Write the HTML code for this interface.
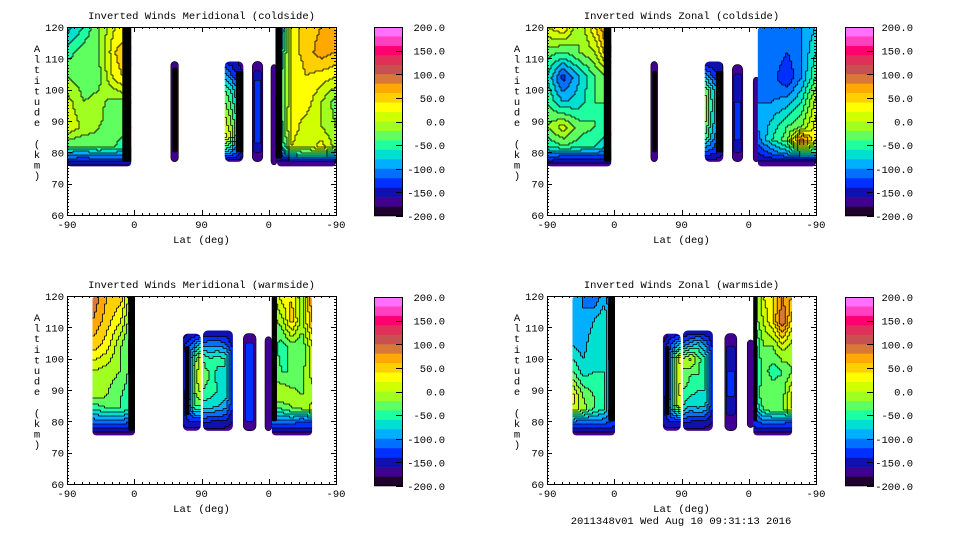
<!DOCTYPE html>
<html><head><meta charset="utf-8">
<style>
html,body{margin:0;padding:0;background:#fff;}
svg{display:block;}
text{font-family:"Liberation Mono",monospace;font-size:10.5px;fill:#000;}
</style></head>
<body>
<svg id="chart" width="960" height="540" viewBox="0 0 960 540" xmlns="http://www.w3.org/2000/svg">
<text x="681" y="524" text-anchor="middle">2011348v01 Wed Aug 10 09:31:13 2016</text>
</svg>
<script>
const bandColors=['#ff70ff','#ff40c0','#ff0070','#e0305a','#c85050','#d87838','#ffa800','#ffd000','#ffff00','#d0ff00','#a0ff20','#60ff60','#20ffa0','#00e0d0','#00b0ff','#0070ff','#0030ff','#1010b0','#400090','#200030'];
const cbLabels=['200.0','150.0','100.0','50.0','0.0','-50.0','-100.0','-150.0','-200.0'];
const xTickVals=[0,90,180,270,360];
const xTickLabels=['-90','0','90','0','-90'];
const yTickVals=[60,70,80,90,100,110,120];
const A9=[120,112,104,96,88,82,79,77,75.5];
const A9b=[120,112,104,96,88,84,80,77,75.5];
const A8=[109,105,100,95,90,85,80,77];
const A7=[108,104,100,95,90,85,80,77];

const tlBlocks=[
 {u:[0,86],a:[75.5,120],r:4,alts:A9,vals:[[-90,-60,-20,20,20],[-50,-30,-20,40,70],[-20,-30,-25,30,50],[10,-20,-15,-30,-20],[20,-5,-20,-25,-40],[-40,-40,-30,-40,-60],[-100,-110,-100,-100,-110],[-140,-140,-140,-140,-140],[-175,-175,-175,-175,-175]]},
 {u:[74,86],a:[77,120],r:2,fill:'#000'},
 {u:[139,149],a:[77,109],r:4,v:-165},
 {u:[141,148],a:[80,107],r:2,fill:'#000'},
 {u:[211,236],a:[77,109],r:5,alts:A8,vals:[[-150,-150,-160,-170],[-90,-120,-140,-160],[-40,-60,-100,-150],[-10,-40,-80,-150],[10,-20,-60,-150],[30,0,-80,-150],[-80,-100,-120,-160],[-170,-170,-170,-170]]},
 {u:[226,236],a:[80,106],r:2,fill:'#000'},
 {u:[248,262],a:[77,109],r:5,v:-165},
 {u:[250,260],a:[80,106],r:2,v:-150},
 {u:[251,259],a:[83,103],r:1,v:-125},
 {u:[273,281],a:[76,108],r:4,v:-165},
 {u:[281,360],a:[75.5,120],r:4,alts:A9,vals:[[-150,30,50,60,80],[-100,30,50,70,60],[-60,20,40,30,20],[-60,20,30,0,-30],[-80,30,10,0,-20],[-100,20,0,30,-10],[-140,-80,-60,-60,-90],[-160,-160,-160,-160,-160],[-175,-175,-175,-175,-175]]},
 {u:[279,288],a:[78,120],r:2,fill:'#000'}
];
const trBlocks=[
 {u:[0,86],a:[75.5,120],r:4,alts:A9,vals:[[20,40,-20,40,100],[-30,-40,-20,0,80],[-60,-130,-80,-40,-20],[-40,-80,-70,-40,-40],[-20,10,-30,-40,-50],[-60,-40,-50,-60,-80],[-110,-120,-120,-120,-120],[-150,-150,-150,-150,-150],[-175,-175,-175,-175,-175]]},
 {u:[76,86],a:[77,120],r:2,fill:'#000'},
 {u:[139,148],a:[77,109],r:4,v:-165},
 {u:[141,147],a:[80,106],r:2,fill:'#000'},
 {u:[211,236],a:[77,109],r:5,alts:A8,vals:[[-160,-160,-160,-160],[-90,-120,-140,-160],[-20,-60,-100,-150],[0,-50,-100,-150],[-10,-60,-100,-150],[-40,-80,-110,-150],[-120,-130,-140,-160],[-170,-170,-170,-170]]},
 {u:[226,236],a:[80,106],r:2,fill:'#000'},
 {u:[248,262],a:[77,108],r:5,v:-165},
 {u:[250,260],a:[80,105],r:2,v:-150},
 {u:[251,259],a:[84,96],r:1,v:-125},
 {u:[276,284],a:[77,104],r:4,v:-165},
 {u:[282,360],a:[75.5,120],r:4,alts:A9b,vals:[[-100,-100,-110,-100,-80],[-100,-100,-120,-100,-60],[-100,-110,-140,-100,-40],[-100,-100,-90,-60,10],[-100,-70,-40,-20,30],[-110,-60,-30,100,20],[-140,-110,-90,-60,-60],[-160,-160,-160,-160,-160],[-175,-175,-175,-175,-175]]}
];
const blBlocks=[
 {u:[34,91],a:[75.5,120],r:4,alts:A9b,vals:[[100,60,50,-40],[80,50,20,-60],[50,30,-20,-60],[0,-10,-20,-60],[-10,-20,-40,-60],[-60,-40,-40,-70],[-110,-110,-110,-120],[-150,-150,-150,-150],[-175,-175,-175,-175]]},
 {u:[82,91],a:[77,120],r:2,fill:'#000'},
 {u:[155,179],a:[77,108],r:5,alts:A7,vals:[[-170,-160,-150,-150],[-150,-120,-100,-60],[-160,-130,-30,10],[-160,-140,-10,20],[-160,-120,-20,10],[-150,-110,-40,-40],[-150,-140,-140,-140],[-170,-170,-170,-170]]},
 {u:[158,164],a:[82,104],r:2,fill:'#000'},
 {u:[182,222],a:[77,109],r:5,alts:A8,vals:[[-160,-160,-160,-160,-160],[-120,-110,-110,-120,-150],[-40,-60,-50,-60,-130],[-30,-40,-70,-60,-130],[-40,-50,-60,-60,-130],[-70,-70,-80,-90,-140],[-130,-140,-140,-140,-160],[-170,-170,-170,-170,-170]]},
 {u:[236,253],a:[77,108],r:5,v:-165},
 {u:[239,250],a:[80,105],r:2,v:-125},
 {u:[265,274],a:[77,107],r:4,v:-165},
 {u:[274,328],a:[75.5,120],r:4,alts:A9b,vals:[[-10,30,40,-20,80],[-30,-10,50,-10,60],[-30,-50,-30,-40,20],[-20,-40,-40,-30,10],[-10,0,-10,-20,-10],[-40,-40,-20,-20,10],[-110,-110,-110,-120,-120],[-150,-150,-150,-150,-150],[-175,-175,-175,-175,-175]]},
 {u:[274,281],a:[80,120],r:2,fill:'#000'}
];
const brBlocks=[
 {u:[34,91],a:[75.5,120],r:4,alts:A9b,vals:[[-80,-100,-120,-90,-150],[-80,-100,-80,-60,-150],[-80,-90,-60,-60,-150],[-40,-70,-60,-60,-140],[30,-20,-40,-60,-140],[20,-10,-40,-60,-140],[-100,-110,-110,-110,-130],[-150,-150,-150,-150,-150],[-175,-175,-175,-175,-175]]},
 {u:[82,91],a:[80,120],r:2,fill:'#000'},
 {u:[155,179],a:[77,108],r:5,alts:A7,vals:[[-170,-160,-150,-150],[-160,-130,-100,-60],[-160,-130,-20,30],[-160,-140,-20,20],[-160,-130,-10,30],[-150,-110,-20,20],[-150,-140,-140,-140],[-170,-170,-170,-170]]},
 {u:[158,164],a:[82,104],r:2,fill:'#000'},
 {u:[182,222],a:[77,109],r:5,alts:A8,vals:[[-160,-160,-160,-160,-160],[-120,-100,-80,-110,-150],[-20,10,-30,-60,-130],[-20,-40,-40,-60,-130],[-40,-50,-60,-60,-130],[-60,-80,-70,-80,-140],[-130,-140,-140,-140,-160],[-170,-170,-170,-170,-170]]},
 {u:[238,254],a:[77,108],r:5,v:-165},
 {u:[240,252],a:[82,104],r:2,v:-150},
 {u:[241,251],a:[88,96],r:1,v:-125},
 {u:[268,277],a:[78,106],r:4,v:-165},
 {u:[276,328],a:[75.5,120],r:4,alts:A9b,vals:[[-60,20,40,80,60],[-40,0,40,100,30],[-80,-20,-20,10,-10],[-80,-30,-50,-40,-20],[-80,-20,-20,-30,30],[-100,-40,-20,-20,20],[-130,-110,-110,-110,-120],[-150,-150,-150,-150,-150],[-175,-175,-175,-175,-175]]},
 {u:[276,281],a:[80,120],r:2,fill:'#000'}
];

const panels=[
 {name:'meridional-coldside',title:'Inverted Winds Meridional (coldside)',x0:67,y0:27,cbx:374,cby:27,lblx:445,blocks:tlBlocks},
 {name:'zonal-coldside',title:'Inverted Winds Zonal (coldside)',x0:547,y0:27,cbx:845,cby:27,lblx:913,blocks:trBlocks},
 {name:'meridional-warmside',title:'Inverted Winds Meridional (warmside)',x0:67,y0:296,cbx:374,cby:297,lblx:445,blocks:blBlocks},
 {name:'zonal-warmside',title:'Inverted Winds Zonal (warmside)',x0:547,y0:296,cbx:845,cby:297,lblx:913,blocks:brBlocks}
];
const PW=269,PH=188,NS='http://www.w3.org/2000/svg';
const svg=document.getElementById('chart');
let clipId=0;
function mk(tag,attrs,parent){const e=document.createElementNS(NS,tag);for(const k in attrs)e.setAttribute(k,attrs[k]);(parent||svg).appendChild(e);return e;}
function band(v){let i=Math.floor((200-v)/20);return Math.max(0,Math.min(19,i));}
function sample(b,u,a){
 const nc=b.vals[0].length;
 let c=(u-b.u[0])/(b.u[1]-b.u[0])*(nc-1);c=Math.max(0,Math.min(nc-1,c));
 const al=b.alts;let k=0;
 while(k<al.length-2&&a<al[k+1])k++;
 let t=(al[k]-a)/(al[k]-al[k+1]);t=Math.max(0,Math.min(1,t));
 const c0=Math.floor(c),c1=Math.min(nc-1,c0+1),f=c-c0;
 const r0=b.vals[k],r1=b.vals[k+1];
 const v0=r0[c0]*(1-f)+r0[c1]*f,v1=r1[c0]*(1-f)+r1[c1]*f;
 return v0*(1-t)+v1*t;
}
panels.forEach(p=>{
 const xs=u=>p.x0+u/360*PW, ys=a=>p.y0+(120-a)/60*PH;
 const g=mk('g',{});
 
 
 const t=mk('text',{x:p.x0+PW/2,y:p.y0-8,'text-anchor':'middle'},g);t.textContent=p.title;
 
 
 const plot=mk('g',{},g);
 
 
 p.blocks.forEach(b=>{
  const X0=xs(b.u[0]),X1=xs(b.u[1]),Y0=ys(b.a[1]),Y1=ys(b.a[0]);
  if(b.fill||b.v!==undefined){
   const r=mk('rect',{x:X0,y:Y0,width:X1-X0,height:Y1-Y0,rx:b.r,fill:b.fill||bandColors[band(b.v)],stroke:b.fill?'none':'#000','stroke-width':b.fill?0:0.6},plot);
   
   
   return;
  }
  const id='c'+(clipId++);
  const cp=mk('clipPath',{id:id},plot);
  mk('rect',{x:X0,y:Y0,width:X1-X0,height:Y1-Y0,rx:b.r},cp);
  const bg=mk('g',{'clip-path':'url(#'+id+')'},plot);
  
  
  const st=2,nx=Math.ceil((X1-X0)/st),ny=Math.ceil((Y1-Y0)/st);
  const grid=[];
  for(let j=0;j<ny;j++){const row=[];for(let i=0;i<nx;i++){
   const px=X0+(i+0.5)*st,py=Y0+(j+0.5)*st;
   const u=(px-p.x0)/PW*360,a=120-(py-p.y0)/PH*60;
   row.push(band(sample(b,u,a)));}grid.push(row);}
  for(let j=0;j<ny;j++){let i=0;while(i<nx){let k=i;while(k+1<nx&&grid[j][k+1]===grid[j][i])k++;
   const r=mk('rect',{x:X0+i*st,y:Y0+j*st,width:(k-i+1)*st+0.3,height:st+0.3,fill:bandColors[grid[j][i]]},bg);
   
   
   i=k+1;}}
  let d='';
  for(let j=0;j<ny;j++)for(let i=0;i<nx;i++){
   if(i+1<nx&&grid[j][i]!==grid[j][i+1])d+='M'+(X0+(i+1)*st)+' '+(Y0+j*st)+'v'+st;
   if(j+1<ny&&grid[j][i]!==grid[j+1][i])d+='M'+(X0+i*st)+' '+(Y0+(j+1)*st)+'h'+st;}
  const cl=mk('path',{d:d,stroke:'#000','stroke-width':0.8,fill:'none'},bg);
  
  
 });
 const ax=mk('rect',{x:p.x0+0.5,y:p.y0+0.5,width:PW,height:PH,fill:'none',stroke:'#000','stroke-width':1},g);
 
 
 let td='';
 for(let u=0;u<=360;u+=10){const x=Math.round(xs(u))+0.5,L=(u%90===0)?5:2;td+='M'+x+' '+(p.y0+PH)+'v-'+L+'M'+x+' '+p.y0+'v'+L;}
 for(let a=60;a<=120;a+=1){const y=Math.round(ys(a))+0.5,L=(a%10===0)?5:2;td+='M'+p.x0+' '+y+'h'+L+'M'+(p.x0+PW)+' '+y+'h-'+L;}
 const tk=mk('path',{d:td,stroke:'#000','stroke-width':1,fill:'none'},g);
 
 
 xTickVals.forEach((u,i)=>{const e=mk('text',{x:xs(u),y:p.y0+PH+13,'text-anchor':'middle'},g);e.textContent=xTickLabels[i];
  
  });
 yTickVals.forEach(a=>{const e=mk('text',{x:p.x0-3,y:ys(a)+4,'text-anchor':'end'},g);e.textContent=String(a);
  
  });
 const xt=mk('text',{x:p.x0+PW/2,y:p.y0+PH+28,'text-anchor':'middle'},g);xt.textContent='Lat (deg)';
 
 
 const yt=mk('text',{x:p.x0-30,y:p.y0+17,style:'writing-mode:vertical-lr;text-orientation:upright;letter-spacing:-1.4px'},g);yt.textContent='Altitude (km)';
 
 
 const cb=mk('g',{},g);
 
 
 const CH=189,bh=CH/20;
 bandColors.forEach((c,i)=>{const r=mk('rect',{x:p.cbx,y:p.cby+i*bh,width:29,height:bh+0.3,fill:c},cb);
  
  });
 mk('rect',{x:p.cbx+0.5,y:p.cby+0.5,width:28,height:CH-1,fill:'none',stroke:'#000'},cb);
 cbLabels.forEach((l,i)=>{const y=p.cby+i*CH/8;
  mk('path',{d:'M'+(p.cbx+22)+' '+(Math.round(y)+0.5)+'h7',stroke:'#000'},cb);
  const e=mk('text',{x:p.lblx,y:y+4,'text-anchor':'end'},cb);e.textContent=l;
  
  });
});
</script>
</body></html>
